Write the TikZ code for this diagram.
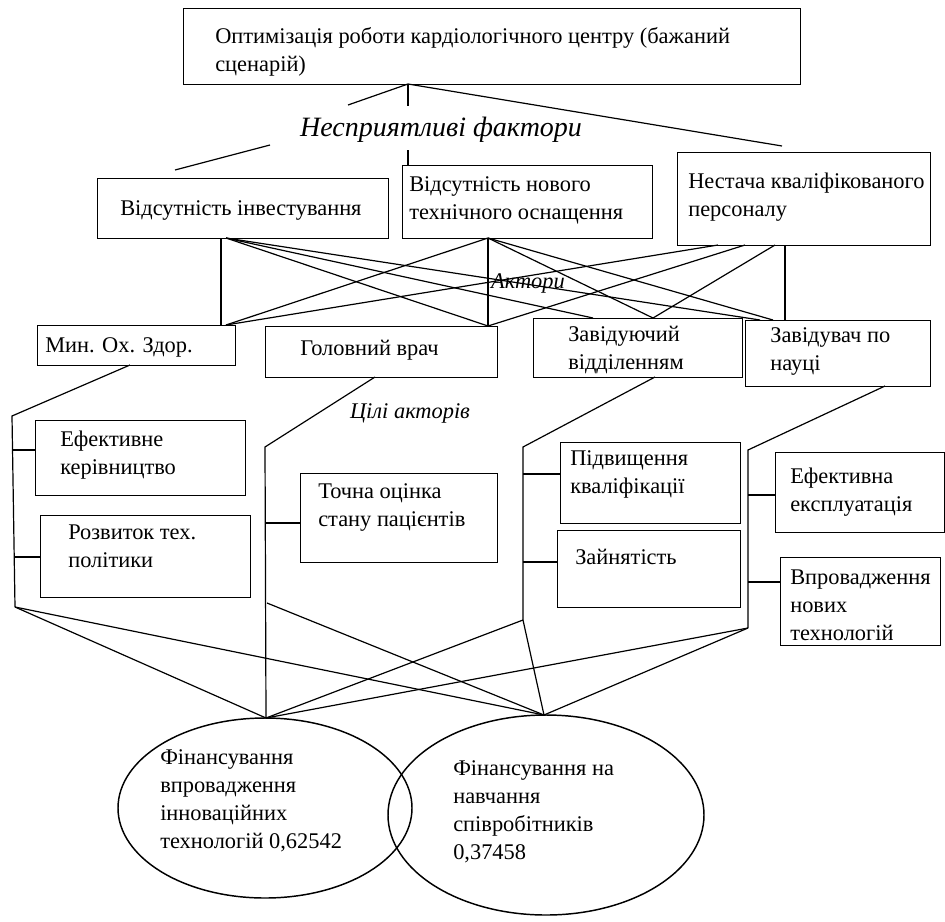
\documentclass[tikz,border=0pt]{standalone}
\usepackage{fontspec}
\setmainfont{Liberation Serif}
\usetikzlibrary{shapes.geometric}
\newcommand{\bodysize}{\fontsize{16.8}{21}\selectfont}
\begin{document}
\begin{tikzpicture}[x=0.75pt,y=-0.75pt,
  box/.style={draw,line width=1.1pt,anchor=north west,inner sep=0pt},
  oval/.style={draw,line width=1.1pt,ellipse,inner sep=0pt},
  txt/.style={anchor=west,align=left,inner sep=0pt,font=\bodysize},
  tag/.style={inner sep=0pt,font=\bodysize\itshape},
  conn/.style={line width=0.9pt}]
\useasboundingbox (0,0) rectangle (945,921);

% ---------- boxes ----------
\node[box,minimum width=617*0.75pt,minimum height=76*0.75pt] (top) at (183,8) {};
\node[box,minimum width=291*0.75pt,minimum height=60*0.75pt] (f1) at (97,178) {};
\node[box,minimum width=250*0.75pt,minimum height=73*0.75pt] (f2) at (402,165) {};
\node[box,minimum width=253*0.75pt,minimum height=93*0.75pt] (f3) at (677,152) {};
\node[box,minimum width=198*0.75pt,minimum height=40*0.75pt] (a1) at (37,325) {};
\node[box,minimum width=232*0.75pt,minimum height=51*0.75pt] (a2) at (265,326) {};
\node[box,minimum width=209*0.75pt,minimum height=59*0.75pt] (a3) at (533,318) {};
\node[box,minimum width=185*0.75pt,minimum height=66*0.75pt] (a4) at (745,320) {};
\node[box,minimum width=210*0.75pt,minimum height=75*0.75pt] (g1) at (35,420) {};
\node[box,minimum width=210*0.75pt,minimum height=82*0.75pt] (g2) at (40,515) {};
\node[box,minimum width=197*0.75pt,minimum height=89*0.75pt] (g3) at (300,473) {};
\node[box,minimum width=180*0.75pt,minimum height=81*0.75pt] (g4) at (560,442) {};
\node[box,minimum width=183*0.75pt,minimum height=77*0.75pt] (g5) at (557,530) {};
\node[box,minimum width=169*0.75pt,minimum height=80*0.75pt] (g6) at (775,452) {};
\node[box,minimum width=160*0.75pt,minimum height=88*0.75pt] (g7) at (780,557) {};
\node[oval,minimum width=294*0.75pt,minimum height=180*0.75pt] (e1) at (265,808) {};
\node[oval,minimum width=316*0.75pt,minimum height=200*0.75pt] (e2) at (546,815) {};

% ---------- texts ----------
\node[txt] (ttop) at (215,52) {Оптимізація роботи кардіологічного центру (бажаний\\сценарій)};
\node[inner sep=0pt,font=\fontsize{21}{25}\selectfont\itshape] (tneg) at (441,130) {Несприятливі фактори};
\node[txt] (tf1) at (120,210) {Відсутність інвестування};
\node[txt] (tf2) at (409,200) {Відсутність нового\\технічного оснащення};
\node[txt] (tf3) at (688,197) {Нестача кваліфікованого\\персоналу};
\node[txt] (ta1) at (45,347) {Мин. Ох. Здор.};
\node[txt] (ta2) at (300,350) {Головний врач};
\node[txt] (ta3) at (568,350) {Завідуючий\\відділенням};
\node[txt] (ta4) at (770,351) {Завідувач по\\науці};
\node[tag] (tact) at (528,283) {Актори};
\node[tag] (tgoal) at (410,413) {Цілі акторів};
\node[txt] (tg1) at (60,455) {Ефективне\\керівництво};
\node[txt] (tg2) at (68,546) {Розвиток тех.\\політики};
\node[txt] (tg3) at (318,507) {Точна оцінка\\стану пацієнтів};
\node[txt] (tg4) at (570,474) {Підвищення\\кваліфікації};
\node[txt] (tg5) at (575,557) {Зайнятість};
\node[txt] (tg6) at (790,492) {Ефективна\\експлуатація};
\node[txt] (tg7) at (790,605) {Впровадження\\нових\\технологій};
\node[txt] (te1) at (160,801) {Фінансування\\впровадження\\інноваційних\\технологій 0,62542};
\node[txt] (te2) at (453,812) {Фінансування на\\навчання\\співробітників\\0,37458};

% ---------- junction points ----------
\coordinate (j0) at (408,84);
\coordinate (jl) at (348,105);
\coordinate (jm) at (408,106);
\coordinate (jr) at (782,146);
\coordinate (nl1) at (270,145);
\coordinate (nl2) at (175,170);
\coordinate (nm1) at (408,150);
\coordinate (nm2) at (408,165);

% factor anchors
\coordinate (f1a) at (221,238);
\coordinate (f1b) at (226,238);
\coordinate (f2a) at (488,238);
\coordinate (f3a) at (718,245);
\coordinate (f3b) at (745,245);
\coordinate (f3c) at (775,245);
\coordinate (f3d) at (785,245);
% actor anchors
\coordinate (a1t) at (221,325);
\coordinate (a1u) at (226,325);
\coordinate (a2t) at (488,326);
\coordinate (a3t) at (593,318);
\coordinate (a3u) at (653,318);
\coordinate (a4t) at (760,320);
\coordinate (a4u) at (773,320);
\coordinate (a4v) at (785,320);

% goal tree points
\coordinate (a1b) at (130,365);
\coordinate (k1a) at (12,416);
\coordinate (k1b) at (12,450);
\coordinate (k1c) at (15,557);
\coordinate (k1d) at (15,607);
\coordinate (a2b) at (375,377);
\coordinate (k2a) at (265,447);
\coordinate (k2b) at (266,523);
\coordinate (k2c) at (267,603);
\coordinate (a3b) at (655,377);
\coordinate (k3a) at (523,447);
\coordinate (k3b) at (523,474);
\coordinate (k3c) at (523,562);
\coordinate (k3d) at (523,620);
\coordinate (a4b) at (885,386);
\coordinate (k4a) at (748,450);
\coordinate (k4b) at (748,495);
\coordinate (k4c) at (748,582);
\coordinate (k4d) at (748,628);
\coordinate (e1t) at (266,718);
\coordinate (e2t) at (544,715);

% ---------- connectors ----------
\draw[conn] (j0) -- (jl);
\draw[conn] (j0) -- (jm);
\draw[conn] (j0) -- (jr);
\draw[conn] (nl1) -- (nl2);
\draw[conn] (nm1) -- (nm2);

% factors to actors
\draw[conn] (f1a) -- (a1t);
\draw[conn] (f1b) -- (a2t);
\draw[conn] (f1b) -- (a3t);
\draw[conn] (f1b) -- (a4t);
\draw[conn] (f2a) -- (a1u);
\draw[conn] (f2a) -- (a2t);
\draw[conn] (f2a) -- (a3u);
\draw[conn] (f2a) -- (a4u);
\draw[conn] (f3a) -- (a1u);
\draw[conn] (f3b) -- (a2t);
\draw[conn] (f3c) -- (a3u);
\draw[conn] (f3d) -- (a4v);

% actors to goals
\draw[conn] (a1b) -- (k1a) -- (k1d);
\draw[conn] (k1b) -- (g1.west |- k1b);
\draw[conn] (k1c) -- (g2.west |- k1c);
\draw[conn] (a2b) -- (k2a) -- (e1t);
\draw[conn] (k2b) -- (g3.west |- k2b);
\draw[conn] (a3b) -- (k3a) -- (k3d);
\draw[conn] (k3b) -- (g4.west |- k3b);
\draw[conn] (k3c) -- (g5.west |- k3c);
\draw[conn] (a4b) -- (k4a) -- (k4d);
\draw[conn] (k4b) -- (g6.west |- k4b);
\draw[conn] (k4c) -- (g7.west |- k4c);

% goals to financing alternatives
\draw[conn] (k1d) -- (e1t);
\draw[conn] (k1d) -- (e2t);
\draw[conn] (k2c) -- (e2t);
\draw[conn] (k3d) -- (e1t);
\draw[conn] (k3d) -- (e2t);
\draw[conn] (k4d) -- (e1t);
\draw[conn] (k4d) -- (e2t);
\end{tikzpicture}
\end{document}
